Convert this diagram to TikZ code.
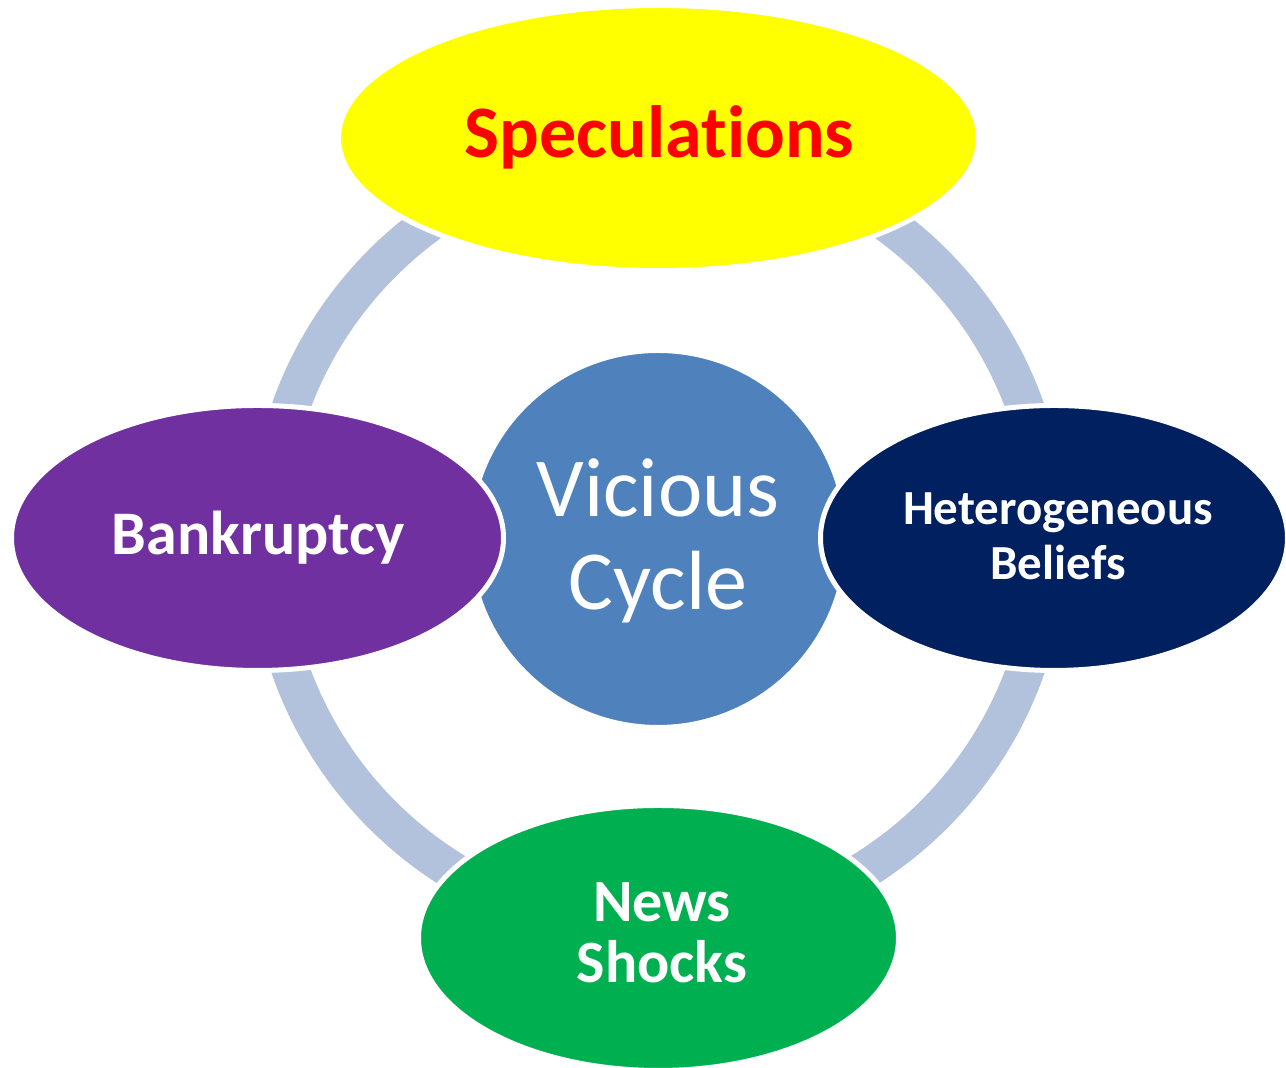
\documentclass[tikz,border=0pt]{standalone}
\usepackage{fontspec}
\setmainfont{Carlito}[Ligatures=NoCommon]
\usetikzlibrary{shapes.geometric}
\definecolor{ringblue}{RGB}{179,194,220}
\definecolor{hubblue}{RGB}{79,129,189}
\definecolor{specyellow}{RGB}{255,255,0}
\definecolor{specred}{RGB}{255,0,0}
\definecolor{bankpurple}{RGB}{112,48,160}
\definecolor{beliefnavy}{RGB}{0,32,96}
\definecolor{newsgreen}{RGB}{0,176,80}
\begin{document}
\begin{tikzpicture}[x=0.5pt,y=0.5pt,
  blob/.style={ellipse,draw=white,line width=2.5pt,inner sep=0pt,minimum height=132.5pt},
  lbl/.style={text=white,font=\bfseries,align=center,anchor=base,inner sep=0pt}]
\useasboundingbox(0,0)rectangle(1286,1068);
\coordinate(C)at(658,529);
\draw[ringblue,line width=19pt](C)circle(390);
\node[blob,fill=hubblue,minimum width=188.5pt,minimum height=188.5pt](hub)at(C){};
\node[blob,fill=specyellow,minimum width=320pt](spec)at(658.5,930){};
\node[blob,fill=bankpurple,minimum width=246pt](bank)at(257.5,530){};
\node[blob,fill=beliefnavy,minimum width=233.5pt](belief)at(1054,530){};
\node[blob,fill=newsgreen,minimum width=240pt](news)at(658.5,130){};
% text, anchored on the last baseline
\node[lbl,text=specred,font=\fontsize{37}{44}\selectfont\bfseries](specT)at(659.5,910){Speculations};
\node[lbl,font=\fontsize{42}{46.5}\selectfont](hubT)at(658,458){Vicious\\Cycle};
\node[lbl,font=\fontsize{31}{36}\selectfont\bfseries](bankT)at(258,513){Bankruptcy};
\node[lbl,font=\fontsize{24.5}{27.5}\selectfont\bfseries](beliefT)at(1058,488){Heterogeneous\\Beliefs};
\node[lbl,font=\fontsize{30}{30.5}\selectfont\bfseries](newsT)at(662,85){News\\Shocks};
\end{tikzpicture}
\end{document}
